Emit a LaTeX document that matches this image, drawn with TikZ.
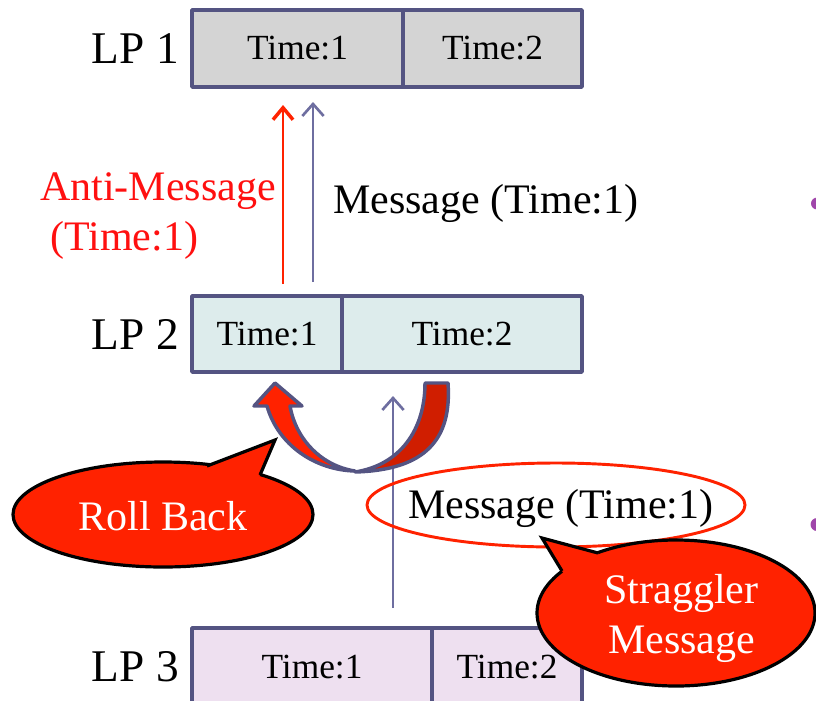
\documentclass[tikz,border=0pt]{standalone}
\usepackage{fontspec}
\setmainfont{Liberation Serif}
\usetikzlibrary{arrows.meta}

\definecolor{boxline}{RGB}{84,84,130}
\definecolor{msgline}{RGB}{110,110,160}
\definecolor{lpgray}{RGB}{212,212,212}
\definecolor{lpcyan}{RGB}{221,236,236}
\definecolor{lplilac}{RGB}{238,224,240}
\definecolor{hotred}{RGB}{255,34,0}
\definecolor{darkred}{RGB}{208,30,0}
\definecolor{antired}{RGB}{255,16,16}
\definecolor{bulletpurple}{RGB}{160,70,170}

\begin{document}
\begin{tikzpicture}[x=0.75pt,y=-0.75pt,
  cell/.style={draw=boxline, line width=2.8pt, line join=round, inner sep=0pt,
    outer sep=0pt, font=\fontsize{26.5}{30}\selectfont},
  lplabel/.style={anchor=east, inner sep=0pt, font=\fontsize{34}{40}\selectfont},
  bigtext/.style={inner sep=0pt, font=\fontsize{31.5}{37}\selectfont},
  msgarrow/.style={draw=msgline, line width=1.4pt,
    -{Straight Barb[length=9pt,width=16pt,line width=2pt]}},
  antiarrow/.style={draw=hotred, line width=1.4pt,
    -{Straight Barb[length=9pt,width=15pt,line width=2.6pt]}},
  callout/.style={fill=hotred, draw=black, line width=2.4pt, line join=round},
  rollpart/.style={draw=boxline, line width=2.6pt, line join=round}]

\useasboundingbox (0,0) rectangle (816,700);

% ---- LP 1 ----
\node[cell, fill=lpgray, minimum width=158.25pt, minimum height=57.75pt]
  (lp1a) at (297.5,48.5) {Time:1};
\node[cell, fill=lpgray, minimum width=134.25pt, minimum height=57.75pt]
  (lp1b) at (492.5,48.5) {Time:2};
\node[lplabel] (lp1) at (179,48.5) {LP 1};

% ---- LP 2 ----
\node[cell, fill=lpcyan, minimum width=112.5pt, minimum height=57pt]
  (lp2a) at (267,334) {Time:1};
\node[cell, fill=lpcyan, minimum width=180pt, minimum height=57pt]
  (lp2b) at (462,334) {Time:2};
\node[lplabel] (lp2) at (179,334) {LP 2};

% ---- LP 3 ----
\node[cell, fill=lplilac, minimum width=180pt, minimum height=58.5pt]
  (lp3a) at (312,667) {Time:1};
\node[cell, fill=lplilac, minimum width=112.5pt, minimum height=58.5pt]
  (lp3b) at (507,667) {Time:2};
\node[lplabel] (lp3) at (179,667) {LP 3};

% ---- messages between LP 2 and LP 1 ----
\coordinate (antiS) at (283,284);
\coordinate (antiE) at (283,105);
\coordinate (msgS) at (313,282);
\coordinate (msgE) at (313,102);
\draw[antiarrow] (antiS) -- (antiE);
\draw[msgarrow] (msgS) -- (msgE);

\node[bigtext, text=antired, anchor=base west] (anti1) at (40,200) {Anti-Message};
\node[bigtext, text=antired, anchor=base west] (anti2) at (50,250) {(Time:1)};
\node[bigtext, anchor=base west] (msgup) at (333,213) {Message (Time:1)};

% ---- straggler message from LP 3 ----
\coordinate (stragS) at (393,608);
\coordinate (stragE) at (393,396);
\draw[msgarrow] (stragS) -- (stragE);
\draw[hotred, line width=2.2pt] (556,505) ellipse [x radius=189, y radius=42];
\node[bigtext, anchor=base west] (msglow) at (408,518) {Message (Time:1)};

% ---- roll back curved arrow ----
\path[rollpart, fill=darkred]
  (425,383) -- (448,383)
  .. controls (452,440) and (425,470) .. (355,472)
  .. controls (400,465) and (425,430) .. (425,383) -- cycle;
\path[rollpart, fill=hotred]
  (275,383) -- (302,406) -- (290,406)
  .. controls (296,440) and (322,466) .. (355,471)
  .. controls (315,470) and (278,445) .. (267,406)
  -- (254,406) -- cycle;

% ---- Roll Back callout ----
\path[callout] (163,514.5) ellipse [x radius=150, y radius=52.5];
\fill[hotred] (207,466) -- (275,440) -- (260,475) -- (256,482) -- (209,473) -- cycle;
\draw[black, line width=2.4pt, line join=miter] (207,466) -- (275,440) -- (260,475);
\node[bigtext, text=white, anchor=base] (rollback) at (163,530) {Roll Back};

% ---- Straggler Message callout ----
\path[callout] (676,613) ellipse [x radius=139, y radius=73];
\fill[hotred] (562,571) -- (542,538) -- (598,553) -- (600,561) -- (567,578) -- cycle;
\draw[black, line width=2.4pt, line join=miter] (562,571) -- (542,538) -- (598,553);
\node[bigtext, text=white, anchor=base] (strag1) at (681.5,603) {Straggler};
\node[bigtext, text=white, anchor=base] (strag2) at (681.5,653) {Message};

% ---- bullet marks at the right edge ----
\fill[bulletpurple] (817,203.5) circle [radius=6];
\fill[bulletpurple] (817,524.5) circle [radius=6.5];

\end{tikzpicture}
\end{document}
